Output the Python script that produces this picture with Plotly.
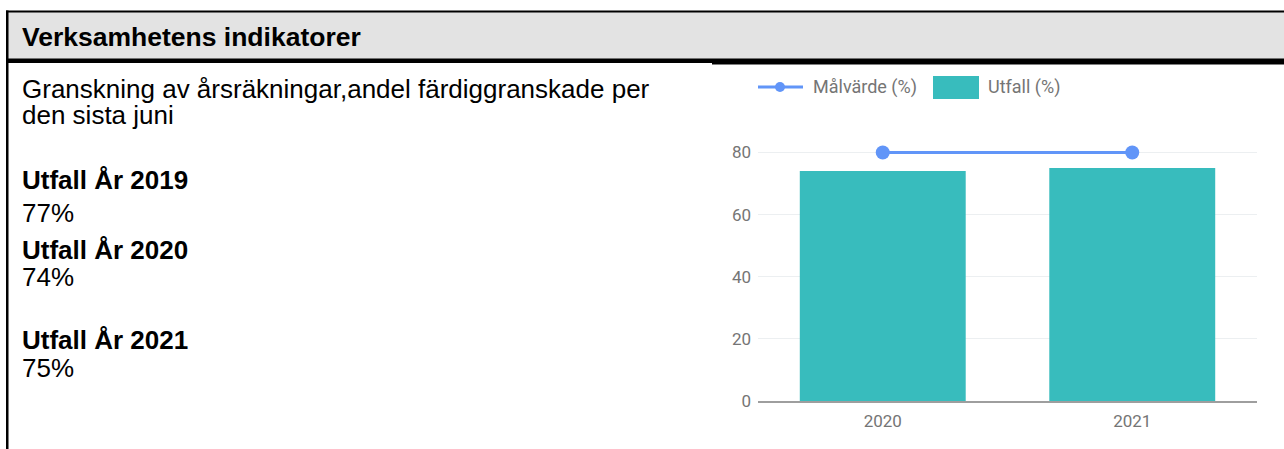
import plotly.graph_objects as go

# ---- data ----
years = ["2020", "2021"]
utfall = [74, 75]
malvarde = [80, 80]
y_ticks = [0, 20, 40, 60, 80]

header_title = "Verksamhetens indikatorer"
indicator_desc = ["Granskning av årsräkningar,andel färdiggranskade per", "den sista juni"]
outcome_labels = ["Utfall År 2019", "Utfall År 2020", "Utfall År 2021"]
outcome_values = ["77%", "74%", "75%"]

W, H = 1284, 449
L, R, T, B = 758, 27, 140, 48
PW = W - L - R
PH = H - T - B

def px(x):
    return (x - L) / PW

def py(y):
    return (H - B - y) / PH

TEAL = "#38bcbd"
BLUE = "#6195f8"
GRAY_TXT = "#757575"

fig = go.Figure()
fig.add_trace(go.Bar(x=years, y=utfall, name="Utfall (%)", marker_color=TEAL,
                     marker_line_width=0, showlegend=False))
fig.add_trace(go.Scatter(x=years, y=malvarde, name="Målvärde (%)", mode="lines+markers",
                         line=dict(color=BLUE, width=3), marker=dict(size=14, color=BLUE),
                         showlegend=False))

shapes = []
shapes.append(dict(type="rect", xref="paper", yref="paper", x0=px(8), x1=px(W), y0=py(12), y1=py(59),
                   fillcolor="#e3e3e3", line_width=0, layer="below"))
shapes.append(dict(type="rect", xref="paper", yref="paper", x0=px(6), x1=px(W), y0=py(10.5), y1=py(12.5),
                   fillcolor="black", line_width=0))
shapes.append(dict(type="rect", xref="paper", yref="paper", x0=px(6), x1=px(712), y0=py(58.5), y1=py(63),
                   fillcolor="black", line_width=0))
shapes.append(dict(type="rect", xref="paper", yref="paper", x0=px(712), x1=px(W), y0=py(58.5), y1=py(64.5),
                   fillcolor="black", line_width=0))
shapes.append(dict(type="rect", xref="paper", yref="paper", x0=px(6), x1=px(8.5), y0=py(10.5), y1=py(H),
                   fillcolor="black", line_width=0))
shapes.append(dict(type="line", xref="paper", yref="paper", x0=px(758), x1=px(803), y0=py(87), y1=py(87),
                   line=dict(color=BLUE, width=3)))
shapes.append(dict(type="circle", xref="paper", yref="paper", x0=px(775), x1=px(785), y0=py(82), y1=py(92),
                   fillcolor=BLUE, line_width=0))
shapes.append(dict(type="rect", xref="paper", yref="paper", x0=px(933), x1=px(979), y0=py(76), y1=py(99),
                   fillcolor=TEAL, line_width=0))

annotations = []
BODY_FONT = "Liberation Sans, Arial, sans-serif"
FS = 26

def add_text(text, x, center, bold=False, size=FS):
    t = f"<b>{text}</b>" if bold else text
    annotations.append(dict(text=t, xref="paper", yref="paper", x=px(x), y=py(center),
                            xanchor="left", yanchor="middle", showarrow=False,
                            font=dict(family=BODY_FONT, size=size, color="black")))

add_text(header_title, 20, 37, bold=True, size=26.5)
add_text(indicator_desc[0], 20, 89)
add_text(indicator_desc[1], 20, 115)
centers = [(180, 213), (250, 277), (340, 368)]
for (lc, vc), lab, val in zip(centers, outcome_labels, outcome_values):
    add_text(lab, 20, lc, bold=True)
    add_text(val, 20, vc)

annotations.append(dict(text="Målvärde (%)", xref="paper", yref="paper", x=px(811), y=py(87),
                        xanchor="left", yanchor="middle", showarrow=False,
                        font=dict(family="Roboto", size=18, color=GRAY_TXT)))
annotations.append(dict(text="Utfall (%)", xref="paper", yref="paper", x=px(986), y=py(87),
                        xanchor="left", yanchor="middle", showarrow=False,
                        font=dict(family="Roboto", size=18, color=GRAY_TXT)))

fig.update_layout(
    width=W, height=H,
    margin=dict(l=L, r=R, t=T, b=B, pad=0),
    paper_bgcolor="white", plot_bgcolor="white",
    bargap=0.335,
    shapes=shapes, annotations=annotations,
    font=dict(family="Roboto", size=17, color=GRAY_TXT),
    xaxis=dict(showgrid=False, zeroline=False, showline=True, linecolor="#9e9e9e", linewidth=2,
               ticks="", tickfont=dict(family="Roboto", size=17, color=GRAY_TXT), ticklabelstandoff=4),
    yaxis=dict(range=[0, 84], tickvals=y_ticks, showgrid=True, gridcolor="#eceff1", gridwidth=1,
               zeroline=False, showline=False, ticks="",
               tickfont=dict(family="Roboto", size=17, color=GRAY_TXT), ticklabelstandoff=6),
)

fig.write_html("out.html", config={"displayModeBar": False},
               post_script="document.body.style.margin='0';document.body.style.overflow='hidden';")
